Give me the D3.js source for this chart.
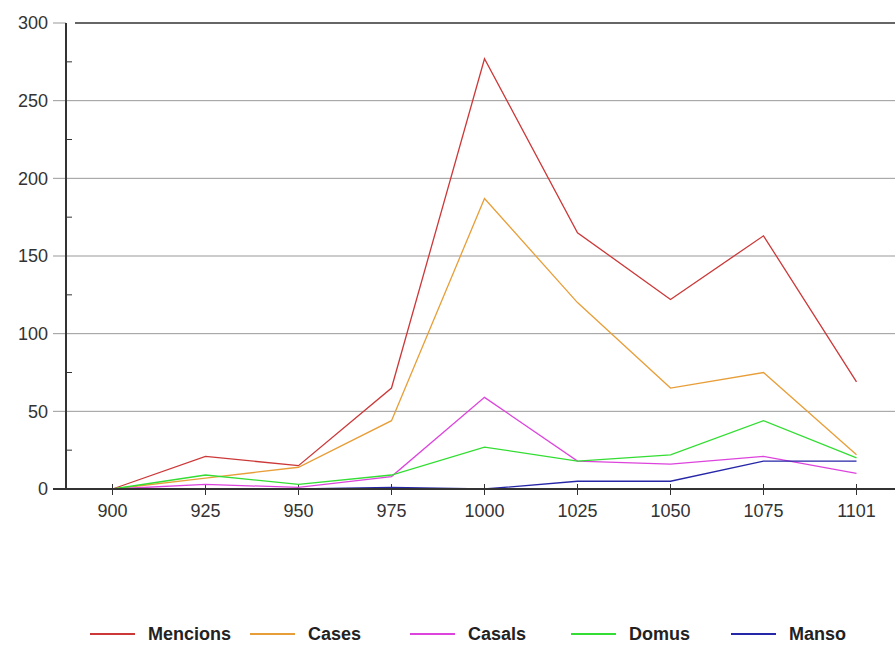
<!DOCTYPE html>
<html>
<head>
<meta charset="utf-8">
<script src="https://cdn.jsdelivr.net/npm/d3@7"></script>
<style>
  body { margin: 0; background: #fff; }
  svg { display: block; font-family: "Liberation Sans", Arial, sans-serif; }
</style>
</head>
<body>
<div id="chart"></div>
<script>
const years = ["900", "925", "950", "975", "1000", "1025", "1050", "1075", "1101"];
const mencions = [0, 21, 15, 65, 277, 165, 122, 163, 69];
const cases = [0, 7, 14, 44, 187, 120, 65, 75, 22];
const casals = [0, 3, 1, 8, 59, 18, 16, 21, 10];
const domus = [0, 9, 3, 9, 27, 18, 22, 44, 20];
const manso = [0, 0, 0, 1, 0, 5, 5, 18, 18];
const yTicks = [0, 50, 100, 150, 200, 250, 300];
const yMinor = [25, 75, 125, 175, 225, 275];

const series = [
  { name: "Mencions", values: mencions, color: "#cc3838" },
  { name: "Cases", values: cases, color: "#e89e38" },
  { name: "Casals", values: casals, color: "#dd44dd" },
  { name: "Domus", values: domus, color: "#33dd33" },
  { name: "Manso", values: manso, color: "#2626a8" },
];

const width = 895;
const height = 646;
const axisX = 66;

const svg = d3
  .select("#chart")
  .append("svg")
  .attr("width", width)
  .attr("height", height);

const x = d3.scalePoint().domain(years).range([axisX, axisX + 93 * 9]).padding(0.5);
const y = d3.scaleLinear().domain([0, 300]).range([489, 23]);

// gridlines
svg
  .selectAll("line.grid")
  .data(yTicks.filter((d) => d > 0 && d < 300))
  .join("line")
  .attr("class", "grid")
  .attr("x1", 53)
  .attr("x2", width)
  .attr("y1", (d) => y(d))
  .attr("y2", (d) => y(d))
  .style("stroke", "#999")
  .style("stroke-width", 1);

// top border
svg.append("line")
  .attr("x1", 53).attr("x2", axisX)
  .attr("y1", y(300)).attr("y2", y(300))
  .style("stroke", "#999");
svg.append("line")
  .attr("x1", 75).attr("x2", width)
  .attr("y1", y(300)).attr("y2", y(300))
  .style("stroke", "#333")
  .style("stroke-width", 1.5);

// minor ticks
svg
  .selectAll("line.minor")
  .data(yMinor)
  .join("line")
  .attr("class", "minor")
  .attr("x1", axisX)
  .attr("x2", axisX + 6)
  .attr("y1", (d) => y(d))
  .attr("y2", (d) => y(d))
  .style("stroke", "#333");

// y labels
svg
  .selectAll("text.ylab")
  .data(yTicks)
  .join("text")
  .attr("class", "ylab")
  .attr("x", 48)
  .attr("y", (d) => y(d))
  .attr("dy", "0.35em")
  .style("text-anchor", "end")
  .style("font-size", "18px")
  .style("fill", "#333")
  .text((d) => d);

// x ticks + labels
svg
  .selectAll("line.xtick")
  .data(years)
  .join("line")
  .attr("class", "xtick")
  .attr("x1", (d) => x(d))
  .attr("x2", (d) => x(d))
  .attr("y1", y(0) - 5)
  .attr("y2", y(0) + 6)
  .style("stroke", "#333");

svg
  .selectAll("text.xlab")
  .data(years)
  .join("text")
  .attr("class", "xlab")
  .attr("x", (d) => x(d))
  .attr("y", 517)
  .style("text-anchor", "middle")
  .style("font-size", "18px")
  .style("fill", "#333")
  .text((d) => d);

// series lines
const line = d3
  .line()
  .x((d, i) => x(years[i]))
  .y((d) => y(d));

svg
  .selectAll("path.series")
  .data(series)
  .join("path")
  .attr("class", "series")
  .attr("d", (d) => line(d.values))
  .style("fill", "none")
  .style("stroke", (d) => d.color)
  .style("stroke-width", 1.3);

// axes on top
svg.append("line")
  .attr("x1", axisX).attr("x2", axisX)
  .attr("y1", y(300)).attr("y2", y(0))
  .style("stroke", "#333")
  .style("stroke-width", 2);
svg.append("line")
  .attr("x1", 53).attr("x2", width)
  .attr("y1", y(0)).attr("y2", y(0))
  .style("stroke", "#333")
  .style("stroke-width", 2);

// legend
const legendX = [90, 250, 410, 571, 731];
const legend = svg
  .selectAll("g.legend")
  .data(series)
  .join("g")
  .attr("class", "legend")
  .attr("transform", (d, i) => `translate(${legendX[i]},634)`);

legend.append("line")
  .attr("x1", 0).attr("x2", 45)
  .attr("y1", 0).attr("y2", 0)
  .style("stroke", (d) => d.color)
  .style("stroke-width", 2);

legend.append("text")
  .attr("x", 58)
  .attr("dy", "0.35em")
  .style("font-size", "18px")
  .style("font-weight", "bold")
  .style("fill", "#222")
  .text((d) => d.name);
</script>
</body>
</html>
